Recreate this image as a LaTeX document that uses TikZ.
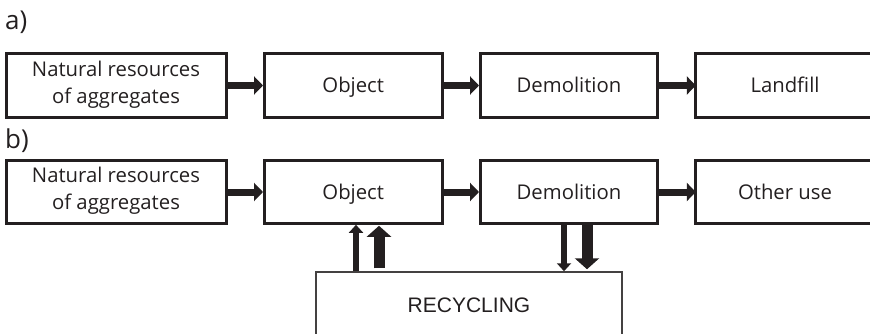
\documentclass[tikz,border=0pt]{standalone}
\usepackage{fontspec}
\setmainfont{Open Sans}
\newfontfamily\arialfont{Liberation Sans}
\usetikzlibrary{arrows.meta,calc}
\definecolor{ink}{HTML}{231F20}
\begin{document}
\begin{tikzpicture}[x=1pt,y=-1pt,
  boxfont/.style={font=\fontsize{20.3}{27}\selectfont, text=ink},
  box/.style={draw=ink, line width=3pt, rectangle, inner sep=0pt, align=center, boxfont},
  oneline/.style={text height=14.6pt, text depth=0pt},
  openbox/.style={rectangle, inner sep=0pt, align=center, boxfont},
  flow/.style={draw=ink, line width=7pt, -{Triangle[length=9pt,width=18pt]}},
  thinarr/.style={draw=ink, line width=6pt, -{Triangle[length=8pt,width=14pt]}},
  thickarr/.style={draw=ink, line width=11pt, -{Triangle[length=11pt,width=24pt]}},
  lbl/.style={anchor=west, inner sep=0pt, font=\fontsize{26}{30}\selectfont, text=ink},
]
\useasboundingbox (0,0) rectangle (870,334);
\clip (0,0) rectangle (870,334);

% labels
\node[lbl] (la) at (5,22) {a)};
\node[lbl] (lb) at (5,141) {b)};

% row a
\node[box, minimum width=220pt, minimum height=64pt] (a1) at (116,85.5) {};
\node[boxfont, align=center, inner sep=0pt] (a1t) at (116,84.5) {Natural resources\\of aggregates};
\node[box, oneline, minimum width=177.5pt, minimum height=64pt] (a2) at (353.25,85.5) {Object};
\node[box, oneline, minimum width=177pt, minimum height=64pt] (a3) at (569,85.5) {Demolition};
\node[openbox, oneline, minimum width=178pt, minimum height=64pt] (a4) at (785,85.5) {Landfill};
\draw[ink, line width=3pt] ($(a4.north east)+(10,0)$) -- (a4.north west) -- (a4.south west) -- ($(a4.south east)+(10,0)$);

% row b
\node[box, minimum width=220pt, minimum height=62.6pt] (b1) at (116,192) {};
\node[boxfont, align=center, inner sep=0pt] (b1t) at (116,191) {Natural resources\\of aggregates};
\node[box, oneline, minimum width=177.5pt, minimum height=62.6pt] (b2) at (353.25,192) {Object};
\node[box, oneline, minimum width=177pt, minimum height=62.6pt] (b3) at (569,192) {Demolition};
\node[openbox, oneline, minimum width=178pt, minimum height=62.6pt] (b4) at (785,192) {Other use};
\draw[ink, line width=3pt] ($(b4.north east)+(10,0)$) -- (b4.north west) -- (b4.south west) -- ($(b4.south east)+(10,0)$);

% recycling
\node[draw=ink!85, line width=1.5pt, rectangle, inner sep=0pt,
  minimum width=306pt, minimum height=66pt, text=ink, text height=15pt, text depth=0pt,
  font=\arialfont\fontsize{21}{25}\selectfont] (rec) at (469,305) {RECYCLING};

% horizontal flows
\draw[flow] (a1.east) -- (a2.west);
\draw[flow] (a2.east) -- (a3.west);
\draw[flow] (a3.east) -- (a4.west);
\draw[flow] (b1.east) -- (b2.west);
\draw[flow] (b2.east) -- (b3.west);
\draw[flow] (b3.east) -- (b4.west);

% vertical flows
\coordinate (u1) at (356,0);
\coordinate (u2) at (379,0);
\coordinate (d1) at (564,0);
\coordinate (d2) at (587,0);
\draw[thinarr] (rec.north -| u1) -- (b2.south -| u1);
\draw[thickarr, shorten <=3pt, shorten >=1pt] (rec.north -| u2) -- (b2.south -| u2);
\draw[thinarr] (b3.south -| d1) -- (rec.north -| d1);
\draw[thickarr, shorten >=2pt] (b3.south -| d2) -- (rec.north -| d2);
\end{tikzpicture}
\end{document}
